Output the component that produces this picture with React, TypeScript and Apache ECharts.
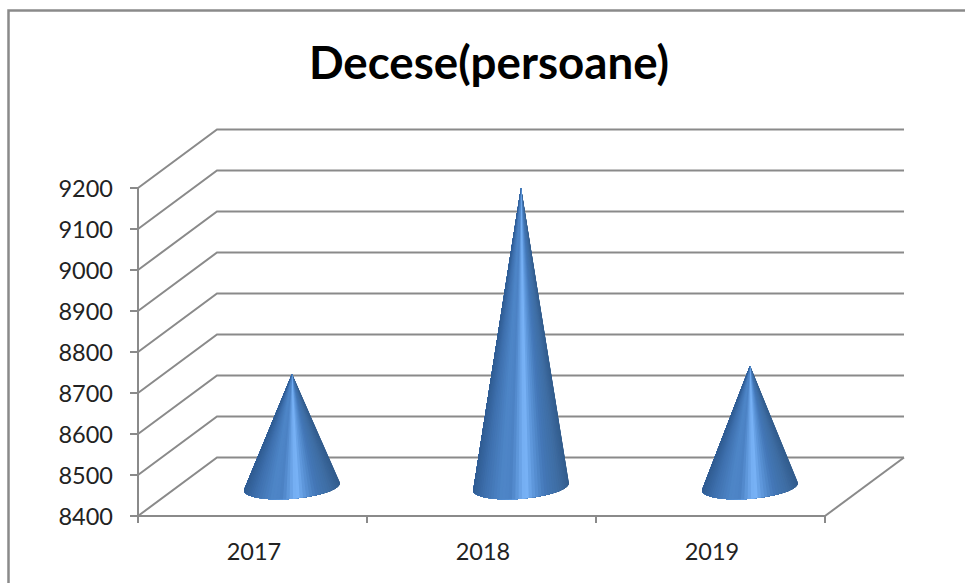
import React, { useEffect, useRef } from "react";
import * as echarts from "echarts";

const categories = ["2017", "2018", "2019"];
const deaths = [8675, 9130, 8695];
const yTicks = [8400, 8500, 8600, 8700, 8800, 8900, 9000, 9100, 9200];

const GREY = "#8a8a8a";
const DEPTH_X = 79;
const DEPTH_Y = -58.5;
const BASE_A = 48;
const BASE_B = 12;
const TILT = (-4.7 * Math.PI) / 180;
const SHADE: [number, number[]][] = [
  [0, [48, 92, 146]],
  [0.12, [62, 112, 174]],
  [0.3, [78, 134, 200]],
  [0.4, [76, 130, 196]],
  [0.5, [108, 166, 234]],
  [0.55, [124, 182, 250]],
  [0.62, [96, 154, 222]],
  [0.75, [68, 120, 184]],
  [0.9, [62, 108, 162]],
  [1, [50, 92, 140]],
];

function shade(t: number) {
  for (let i = 1; i < SHADE.length; i++) {
    if (t <= SHADE[i][0]) {
      const [t0, c0] = SHADE[i - 1];
      const [t1, c1] = SHADE[i];
      const k = (t - t0) / (t1 - t0);
      const c = c0.map((v, j) => Math.round(v + (c1[j] - v) * k));
      return `rgb(${c[0]},${c[1]},${c[2]})`;
    }
  }
  return "rgb(50,92,140)";
}

function renderWall(params: any, api: any) {
  const rect = params.coordSys;
  const v = api.value(0);
  const y = api.coord([categories[0], v])[1];
  const x0 = rect.x;
  const x1 = rect.x + rect.width;
  const style = { stroke: GREY, lineWidth: 2, fill: "none" };
  const children: any[] = [
    {
      type: "polyline",
      shape: { points: [[x0, y], [x0 + DEPTH_X, y + DEPTH_Y], [x1 + DEPTH_X, y + DEPTH_Y]] },
      style,
    },
  ];
  if (params.dataIndex === 0) {
    children.push({
      type: "line",
      shape: { x1, y1: y, x2: x1 + DEPTH_X, y2: y + DEPTH_Y },
      style,
    });
  }
  return { type: "group", children };
}

function renderCone(params: any, api: any) {
  const top = api.coord([api.value(0), api.value(1)]);
  const base = api.coord([api.value(0), yTicks[0]]);
  const ax = top[0] + DEPTH_X / 2;
  const ay = top[1] + DEPTH_Y / 2;
  const cx = base[0] + DEPTH_X / 2;
  const cy = base[1] + DEPTH_Y / 2;
  const point = (th: number) => [
    cx + BASE_A * Math.cos(th) * Math.cos(TILT) - BASE_B * Math.sin(th) * Math.sin(TILT),
    cy + BASE_A * Math.cos(th) * Math.sin(TILT) + BASE_B * Math.sin(th) * Math.cos(TILT),
  ];
  // Painted from the right edge to the left; each wedge runs under the next one,
  // so no white seams show between them.
  const steps = 48;
  const start = -0.12;
  const end = Math.PI + 0.12;
  const children: any[] = [];
  const arc = (i: number) => start + ((end - start) * i) / steps;
  for (let i = 0; i < steps; i++) {
    const pts: number[][] = [[ax, ay]];
    for (let j = i; j <= steps; j++) pts.push(point(arc(j)));
    const p = point(arc(i + 0.5));
    const color = shade(Math.min(1, Math.max(0, (p[0] - (cx - BASE_A)) / (2 * BASE_A))));
    children.push({
      type: "polygon",
      shape: { points: pts },
      style: { fill: color },
    });
  }
  return { type: "group", children };
}

export default function App() {
  const ref = useRef<HTMLDivElement>(null);
  useEffect(() => {
    document.body.style.margin = "0";
    const chart = echarts.init(ref.current!, undefined, { renderer: "svg" });
    chart.setOption({
      animation: false,
      backgroundColor: "#ffffff",
      title: {
        text: "Decese(persoane)",
        left: 484,
        top: 33,
        textAlign: "center",
        textStyle: { fontFamily: "Lato", fontWeight: "bold", fontSize: 45.7, color: "#000000" },
      },
      graphic: [
        {
          type: "polyline",
          shape: { points: [[8.5, 583], [8.5, 10.5], [965, 10.5]] },
          style: { stroke: GREY, lineWidth: 2.5, fill: "none" },
          silent: true,
        },
      ],
      grid: { left: 138, top: 188, width: 687, height: 328 },
      xAxis: {
        type: "category",
        data: categories,
        axisLine: { show: true, lineStyle: { color: GREY, width: 2 } },
        axisTick: { show: true, length: 7, lineStyle: { color: GREY, width: 2 } },
        axisLabel: { margin: 23, fontFamily: "Lato", fontSize: 23.5, color: "#222222", padding: [0, 0, 0, 3] },
        splitLine: { show: false },
      },
      yAxis: {
        type: "value",
        min: 8400,
        max: 9200,
        interval: 100,
        axisLine: { show: true, lineStyle: { color: GREY, width: 2 } },
        axisTick: { show: true, length: 8, lineStyle: { color: GREY, width: 2 } },
        axisLabel: {
          margin: 25,
          fontFamily: "Lato",
          fontSize: 23.5,
          color: "#222222",
          formatter: (v: number) => String(v),
        },
        splitLine: { show: false },
      },
      series: [
        {
          type: "custom",
          name: "Pereți",
          coordinateSystem: "cartesian2d",
          renderItem: renderWall,
          encode: { y: 0 },
          data: yTicks.map((v) => [v]),
          silent: true,
          z: 1,
        },
        {
          type: "custom",
          name: "Decese(persoane)",
          coordinateSystem: "cartesian2d",
          renderItem: renderCone,
          encode: { x: 0, y: 1 },
          data: categories.map((c, i) => [c, deaths[i]]),
          silent: true,
          z: 3,
        },
      ],
    });
    return () => chart.dispose();
  }, []);
  return <div ref={ref} style={{ width: 965, height: 583 }} />;
}
